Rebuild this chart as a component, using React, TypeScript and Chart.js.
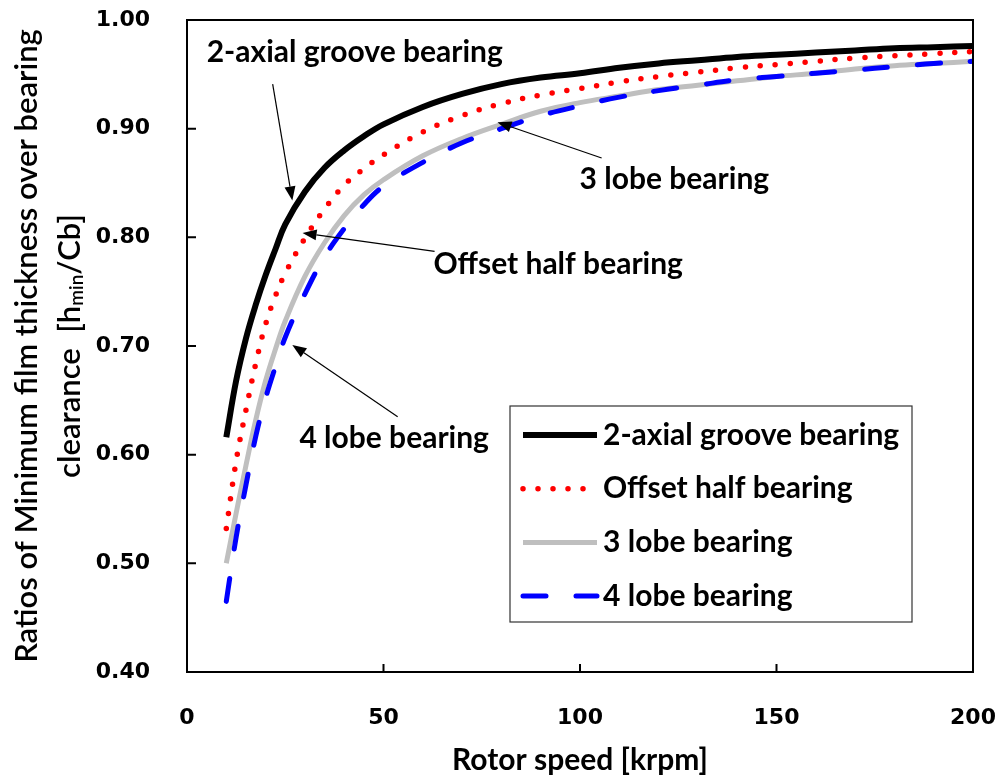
import React, { useEffect, useRef } from "react";
import { Chart, registerables } from "chart.js";

Chart.register(...registerables);

// ---- data ----
const speeds = [10, 12.5, 15, 17.5, 20, 22.5, 25, 30, 35, 40, 45, 50, 60, 70, 80, 90, 100, 110, 120, 130, 140, 150, 160, 170, 180, 190, 200];
const twoAxial = [0.616, 0.668, 0.707, 0.738, 0.765, 0.789, 0.812, 0.842, 0.864, 0.88, 0.893, 0.904, 0.92, 0.932, 0.941, 0.947, 0.951, 0.956, 0.96, 0.963, 0.966, 0.968, 0.97, 0.972, 0.974, 0.975, 0.976];
const offsetHalf = [0.532, 0.594, 0.641, 0.684, 0.72, 0.746, 0.767, 0.799, 0.826, 0.848, 0.863, 0.876, 0.897, 0.912, 0.923, 0.931, 0.937, 0.943, 0.948, 0.952, 0.956, 0.959, 0.962, 0.965, 0.967, 0.969, 0.971];
const threeLobe = [0.5, 0.546, 0.59, 0.632, 0.668, 0.697, 0.723, 0.764, 0.795, 0.82, 0.839, 0.853, 0.875, 0.891, 0.904, 0.916, 0.924, 0.93, 0.936, 0.94, 0.944, 0.948, 0.951, 0.955, 0.958, 0.96, 0.962];
const fourLobe = [0.465, 0.524, 0.572, 0.617, 0.652, 0.681, 0.708, 0.748, 0.782, 0.808, 0.83, 0.847, 0.869, 0.887, 0.9, 0.912, 0.921, 0.929, 0.935, 0.94, 0.945, 0.948, 0.951, 0.954, 0.957, 0.96, 0.962];
const seriesNames = ["2-axial groove bearing", "Offset half bearing", "3 lobe bearing", "4 lobe bearing"];
const xTicks = [0, 50, 100, 150, 200];
const yTicks = [0.4, 0.5, 0.6, 0.7, 0.8, 0.9, 1.0];
const xTitle = "Rotor speed [krpm]";
const yTitleLine1 = "Ratios of Minimum film thickness over bearing";
const yTitleLine2 = ["clearance  [h", "min", "/Cb]"];

// annotation labels (data coords): text left/center, arrow start, arrow tip
const annoTexts = ["2-axial groove bearing", "Offset half bearing", "3 lobe bearing", "4 lobe bearing"];
const annoTextX = [5.0, 62.7, 99.9, 28.6];
const annoTextY = [0.97, 0.775, 0.853, 0.615];
const annoFromX = [21.8, 63, 105.5, 53.6];
const annoFromY = [0.941, 0.787, 0.873, 0.635];
const annoTipX = [26.8, 29.4, 79, 26.8];
const annoTipY = [0.834, 0.804, 0.906, 0.701];

const LABEL_FONT = "bold 30px Lato, 'Open Sans', sans-serif";

function drawArrow(ctx: CanvasRenderingContext2D, x1: number, y1: number, x2: number, y2: number) {
  const ang = Math.atan2(y2 - y1, x2 - x1);
  const hl = 14, hw = 5.5;
  const bx = x2 - hl * Math.cos(ang), by = y2 - hl * Math.sin(ang);
  ctx.save();
  ctx.strokeStyle = "#000";
  ctx.lineWidth = 1.2;
  ctx.beginPath();
  ctx.moveTo(x1, y1);
  ctx.lineTo(bx, by);
  ctx.stroke();
  ctx.fillStyle = "#000";
  ctx.beginPath();
  ctx.moveTo(x2, y2);
  ctx.lineTo(bx + hw * Math.sin(ang), by - hw * Math.cos(ang));
  ctx.lineTo(bx - hw * Math.sin(ang), by + hw * Math.cos(ang));
  ctx.closePath();
  ctx.fill();
  ctx.restore();
}

const decorPlugin = {
  id: "decor",
  afterDatasetsDraw(chart: any) {
    const ctx: CanvasRenderingContext2D = chart.ctx;
    const { left, right, top, bottom } = chart.chartArea;
    const xs = chart.scales.x, ys = chart.scales.y;
    ctx.save();
    // frame
    ctx.strokeStyle = "#000";
    ctx.lineWidth = 2;
    ctx.strokeRect(left, top, right - left, bottom - top);
    // inward ticks
    ctx.beginPath();
    yTicks.forEach((v) => {
      const y = ys.getPixelForValue(v);
      ctx.moveTo(left, y);
      ctx.lineTo(left + 9, y);
    });
    xTicks.forEach((v) => {
      const x = xs.getPixelForValue(v);
      ctx.moveTo(x, bottom);
      ctx.lineTo(x, bottom - 8);
    });
    ctx.stroke();

    // annotations
    ctx.fillStyle = "#000";
    ctx.font = LABEL_FONT;
    ctx.textBaseline = "middle";
    ctx.textAlign = "left";
    annoTexts.forEach((t, i) => {
      ctx.fillText(t, xs.getPixelForValue(annoTextX[i]), ys.getPixelForValue(annoTextY[i]));
      drawArrow(ctx, xs.getPixelForValue(annoFromX[i]), ys.getPixelForValue(annoFromY[i]), xs.getPixelForValue(annoTipX[i]), ys.getPixelForValue(annoTipY[i]));
    });

    // legend
    const lx = left + 323, ly = top + 386, lw = 402, lh = 216;
    ctx.fillStyle = "#fff";
    ctx.fillRect(lx, ly, lw, lh);
    ctx.strokeStyle = "#333";
    ctx.lineWidth = 1.2;
    ctx.strokeRect(lx, ly, lw, lh);
    const ds = chart.data.datasets;
    seriesNames.forEach((name, i) => {
      const d = ds.find((q: any) => q.label === name);
      const ry = ly + 29 + i * 53.7;
      const sx = lx + 13, ex = lx + 87;
      ctx.save();
      ctx.strokeStyle = d.borderColor;
      ctx.lineWidth = d.borderWidth;
      ctx.lineCap = d.borderCapStyle || "butt";
      ctx.setLineDash(d.borderDash || []);
      ctx.beginPath();
      ctx.moveTo(sx, ry);
      ctx.lineTo(ex, ry);
      ctx.stroke();
      ctx.restore();
      ctx.fillStyle = "#000";
      ctx.font = LABEL_FONT;
      ctx.textBaseline = "middle";
      ctx.fillText(name, lx + 93, ry);
    });

    // axis titles
    ctx.fillStyle = "#000";
    ctx.font = "bold 30px Lato, 'Open Sans', sans-serif";
    ctx.textAlign = "center";
    ctx.textBaseline = "middle";
    ctx.fillText(xTitle, (left + right) / 2, 760);

    const cy = (top + bottom) / 2;
    ctx.save();
    ctx.translate(27, cy);
    ctx.rotate(-Math.PI / 2);
    ctx.font = "600 31px Lato, 'Open Sans', sans-serif";
    ctx.fillText(yTitleLine1, 0, 0);
    ctx.restore();

    ctx.save();
    ctx.translate(70, cy);
    ctx.rotate(-Math.PI / 2);
    ctx.textAlign = "left";
    const mainFont = "600 31px Lato, 'Open Sans', sans-serif";
    const subFont = "600 19px Lato, 'Open Sans', sans-serif";
    ctx.font = mainFont;
    const w0 = ctx.measureText(yTitleLine2[0]).width;
    const w2 = ctx.measureText(yTitleLine2[2]).width;
    ctx.font = subFont;
    const w1 = ctx.measureText(yTitleLine2[1]).width;
    const x0 = -(w0 + w1 + w2) / 2;
    ctx.font = mainFont;
    ctx.fillText(yTitleLine2[0], x0, 0);
    ctx.font = subFont;
    ctx.fillText(yTitleLine2[1], x0 + w0, 7);
    ctx.font = mainFont;
    ctx.fillText(yTitleLine2[2], x0 + w0 + w1, 0);
    ctx.restore();

    ctx.restore();
  },
};

function zeroPad(s: any) {
  s.paddingTop = 0;
  s.paddingBottom = 0;
  s.paddingLeft = 0;
  s.paddingRight = 0;
}

export default function App() {
  const ref = useRef<HTMLCanvasElement>(null);
  useEffect(() => {
    if (!ref.current) return;
    const mk = (ys: number[]) => speeds.map((x, i) => ({ x, y: ys[i] }));
    const chart = new Chart(ref.current, {
      type: "line",
      data: {
        datasets: [
          { label: seriesNames[0], data: mk(twoAxial), borderColor: "#000000", borderWidth: 6, borderCapStyle: "butt", order: 3 },
          { label: seriesNames[1], data: mk(offsetHalf), borderColor: "#ff0000", borderWidth: 5.5, borderDash: [0, 15], borderCapStyle: "round", order: 2 },
          { label: seriesNames[2], data: mk(threeLobe), borderColor: "#bfbfbf", borderWidth: 5, borderCapStyle: "butt", order: 4 },
          { label: seriesNames[3], data: mk(fourLobe), borderColor: "#0000ff", borderWidth: 5, borderDash: [23, 30], borderCapStyle: "round", order: 1 },
        ] as any,
      },
      options: {
        animation: false,
        responsive: false,
        elements: { point: { radius: 0 }, line: { tension: 0.4 } },
        layout: { padding: { top: 20, right: 29, left: 0, bottom: 0 } },
        plugins: { legend: { display: false }, tooltip: { enabled: false }, title: { display: false } },
        scales: {
          x: {
            type: "linear",
            min: 0,
            max: 200,
            grid: { display: false, drawTicks: false },
            border: { display: false },
            ticks: { stepSize: 50, color: "#000", padding: 33, font: { family: "'DejaVu Sans'", weight: "bold", size: 22 } },
            afterFit: (s: any) => { s.height = 106; zeroPad(s); },
          },
          y: {
            type: "linear",
            min: 0.4,
            max: 1.0,
            grid: { display: false, drawTicks: false },
            border: { display: false },
            ticks: { stepSize: 0.1, color: "#000", padding: 37, font: { family: "'DejaVu Sans'", weight: "bold", size: 22 }, callback: (v: any) => Number(v).toFixed(2) },
            afterFit: (s: any) => { s.width = 187; zeroPad(s); },
          },
        },
      } as any,
      plugins: [decorPlugin],
    });
    return () => chart.destroy();
  }, []);
  return (
    <div style={{ position: "fixed", left: 0, top: 0, width: 1002, height: 778, background: "#fff" }}>
      <canvas ref={ref} width={1002} height={778} />
    </div>
  );
}
